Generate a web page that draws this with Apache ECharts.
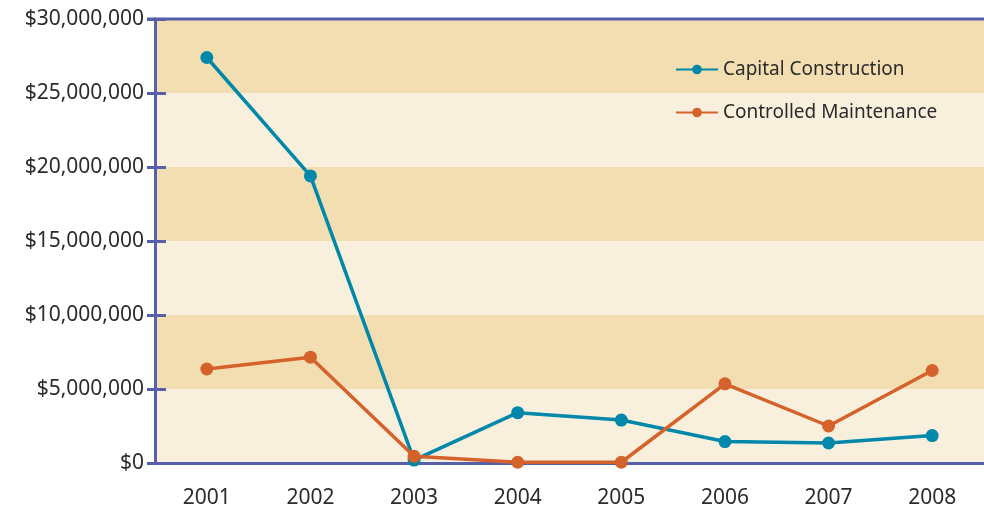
<!DOCTYPE html>
<html>
<head>
<meta charset="utf-8">
<style>
  html, body { margin: 0; padding: 0; background: #fff; }
  #chart { width: 984px; height: 510px; }
</style>
<script src="https://cdn.jsdelivr.net/npm/echarts@6/dist/echarts.min.js"></script>
</head>
<body>
<div id="chart"></div>
<script>
const years = ["2001", "2002", "2003", "2004", "2005", "2006", "2007", "2008"];
const capitalConstruction = [27400000, 19400000, 200000, 3400000, 2900000, 1450000, 1350000, 1850000];
const controlledMaintenance = [6350000, 7150000, 450000, 50000, 50000, 5350000, 2500000, 6250000];
const seriesNames = ["Capital Construction", "Controlled Maintenance"];

const axisBlue = "#5660aa";
const textColor = "#2b2b2b";
const font = "'Noto Sans', sans-serif";

const chart = echarts.init(document.getElementById("chart"), null, { renderer: "canvas" });
const money = v => "$" + v.toLocaleString("en-US");

chart.setOption({
  animation: false,
  textStyle: { fontFamily: font },
  grid: { left: 155, width: 837, top: 19, bottom: 47 },
  legend: {
    orient: "vertical",
    left: 670,
    top: 55,
    itemWidth: 42,
    itemHeight: 12,
    itemGap: 24,
    textStyle: { fontSize: 19, color: textColor, fontFamily: font },
    data: seriesNames
  },
  xAxis: {
    type: "category",
    data: years,
    boundaryGap: true,
    axisLine: { lineStyle: { color: axisBlue, width: 3 } },
    axisTick: { show: false },
    axisLabel: { fontSize: 21, color: textColor, margin: 25 }
  },
  yAxis: [{
    type: "value",
    min: 0,
    max: 30000000,
    interval: 5000000,
    axisLine: { show: true, lineStyle: { color: axisBlue, width: 3 } },
    axisTick: { show: true, length: 8, lineStyle: { color: axisBlue, width: 3 } },
    axisLabel: { fontSize: 21, color: textColor, margin: 11, formatter: money },
    splitLine: { show: false },
    splitArea: { show: true, areaStyle: { color: ["#f8f0dc", "#f2deb1"] } }
  }, {
    type: "value",
    position: "left",
    min: 0,
    max: 30000000,
    interval: 5000000,
    axisLine: { show: false },
    axisTick: { show: true, inside: true, length: 11, lineStyle: { color: axisBlue, width: 3 } },
    axisLabel: { show: false },
    splitLine: { show: false }
  }],
  graphic: [{
    type: "line",
    shape: { x1: 147, y1: 19, x2: 984, y2: 19 },
    style: { stroke: axisBlue, lineWidth: 3 },
    z: 10
  }],
  series: [{
    name: seriesNames[0],
    type: "line",
    data: capitalConstruction,
    color: "#0087aa",
    symbol: "circle",
    symbolSize: 13,
    lineStyle: { width: 3.5 },
    z: 3
  }, {
    name: seriesNames[1],
    type: "line",
    data: controlledMaintenance,
    color: "#d6622b",
    symbol: "circle",
    symbolSize: 13,
    lineStyle: { width: 3.5 },
    z: 4
  }]
});
</script>
</body>
</html>
